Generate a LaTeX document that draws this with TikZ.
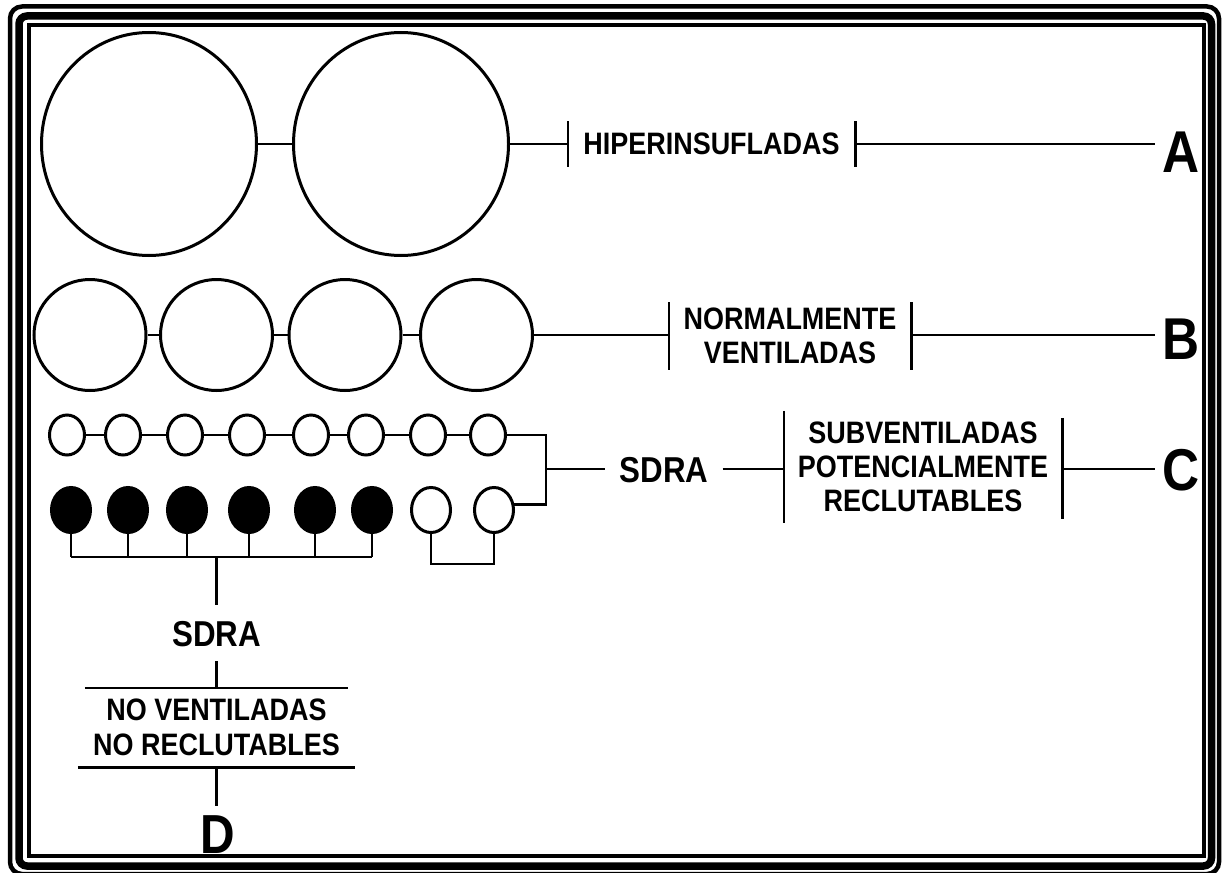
\documentclass[tikz,border=0pt]{standalone}
\usepackage{fontspec}
\setmainfont{Liberation Sans}[FakeStretch=0.87]
\usetikzlibrary{shapes.geometric,calc}
\begin{document}
\begin{tikzpicture}[x=1pt,y=-1pt,
  sac/.style={ellipse,draw,line width=3pt,inner sep=0pt,fill=white},
  bigsac/.style={sac,minimum width=215pt,minimum height=223pt},
  midsac/.style={sac,minimum width=112pt,minimum height=111pt},
  smallsac/.style={sac,minimum width=35pt,minimum height=40pt},
  lowsac/.style={sac,minimum width=39pt,minimum height=45pt},
  deadsac/.style={lowsac,fill=black},
  wire/.style={line width=2.6pt},
  bar/.style={line width=2.6pt},
  tag/.style={inner sep=0pt,align=center,font=\fontsize{31}{34}\selectfont\bfseries},
  sdra/.style={inner xsep=14pt,inner ysep=15pt,text height=26pt,text depth=0pt,
    font=\fontsize{36}{36}\selectfont\bfseries},
  letter/.style={inner xsep=7pt,inner ysep=8pt,text height=42pt,text depth=0pt,
    font=\fontsize{59}{59}\selectfont\bfseries}
]
\useasboundingbox (0,0) rectangle (1222,872);
\fill[white] (0,0) rectangle (1222,872);

% triple frame
\draw[line width=4.5pt,rounded corners=12pt] (10,6.5) rectangle (1219,874);
\draw[line width=7.5pt,rounded corners=8pt] (19,16) rectangle (1211.5,866);
\draw[line width=4pt] (29,25.5) rectangle (1204,855.5);

% row A: over-inflated units
\node[bigsac] (a1) at (149,144) {};
\node[bigsac] (a2) at (401,144) {};
\node[tag,minimum width=287pt,minimum height=45pt] (hip) at (711.5,144) {HIPERINSUFLADAS};
\node[letter] (A) at (1181,151) {A};
\draw[wire] (a1.east) -- (a2.west);
\draw[wire] (a2.east) -- (hip.west);
\draw[bar] (hip.north west) -- (hip.south west);
\draw[bar] (hip.north east) -- (hip.south east);
\draw[wire] (hip.east) -- (hip.east -| A.west);

% row B: normally ventilated units
\foreach \i/\x in {1/90,2/216.5,3/345,4/476.5}
  \node[midsac] (b\i) at (\x,335) {};
\node[tag,minimum width=242pt,minimum height=67pt] (nor) at (790,336) {NORMALMENTE\\VENTILADAS};
\node[letter] (B) at (1181,338) {B};
\foreach \i/\j in {1/2,2/3,3/4}
  \draw[wire] (b\i.east) -- (b\j.west);
\draw[wire] (b4.east) -- (b4.east -| nor.west);
\draw[bar] (nor.north west) -- (nor.south west);
\draw[bar] (nor.north east) -- (nor.south east);
\draw[wire] (b4.east -| nor.east) -- (b4.east -| B.west);

% row C: under-ventilated units, upper chain
\foreach \i/\x in {1/67,2/123,3/185,4/247,5/311,6/366,7/428,8/488}
  \node[smallsac] (t\i) at (\x,435) {};
\foreach \i/\j in {1/2,2/3,3/4,4/5,5/6,6/7,7/8}
  \draw[wire] (t\i.east) -- (t\j.west);

% lower chain: collapsed units and two recruitable ones
\foreach \i/\x in {1/71,2/128,3/187,4/249,5/315,6/372}
  \node[deadsac] (d\i) at (\x,510) {};
\node[lowsac] (w1) at (431,510) {};
\node[lowsac] (w2) at (494,510) {};

% bracket joining the right end of both chains
\coordinate (br) at (546,469);
\draw[wire] (t8.east) -| (br) |- (w2.15);
\node[sdra] (s1) at (664,469) {SDRA};
\node[tag,minimum width=278pt,minimum height=112pt] (sub) at (923,467) {SUBVENTILADAS\\POTENCIALMENTE\\RECLUTABLES};
\node[letter] (C) at (1181,469) {C};
\draw[wire] (br) -- (s1.west);
\draw[wire] (s1.east) -- (s1.east -| sub.west);
\draw[bar] (sub.north west) -- (sub.south west);
\draw[bar,shorten <=7pt,shorten >=4pt] (sub.north east) -- (sub.south east);
\draw[wire] (s1.east -| sub.east) -- (s1.east -| C.west);

% U link under the two recruitable units
\coordinate (ub) at (463,564);
\draw[wire] (w1.south) -- (w1.south |- ub) -- (w2.south |- ub) -- (w2.south);

% comb under the collapsed units
\coordinate (comb) at (216.5,557);
\foreach \i in {1,...,6}
  \draw[wire] (d\i.south) -- (d\i.south |- comb);
\draw[wire] (d1.south |- comb) -- (d6.south |- comb);

% column D: non-ventilated units
\node[sdra] (s2) at (216.5,633) {SDRA};
\node[tag,minimum width=277pt,minimum height=79pt,font=\fontsize{31}{35}\selectfont\bfseries] (nv) at (216.5,727.5) {NO VENTILADAS\\NO RECLUTABLES};
\node[letter,font=\fontsize{55}{55}\selectfont\bfseries,text height=39.5pt] (D) at (218,834) {D};
\draw[wire] (comb) -- (s2.north);
\draw[wire] (s2.south) -- (nv.north);
\draw[bar,shorten <=7pt,shorten >=7pt] (nv.north west) -- (nv.north east);
\draw[bar] (nv.south west) -- (nv.south east);
\draw[wire] (nv.south) -- (nv.south |- D.north);
\end{tikzpicture}
\end{document}
